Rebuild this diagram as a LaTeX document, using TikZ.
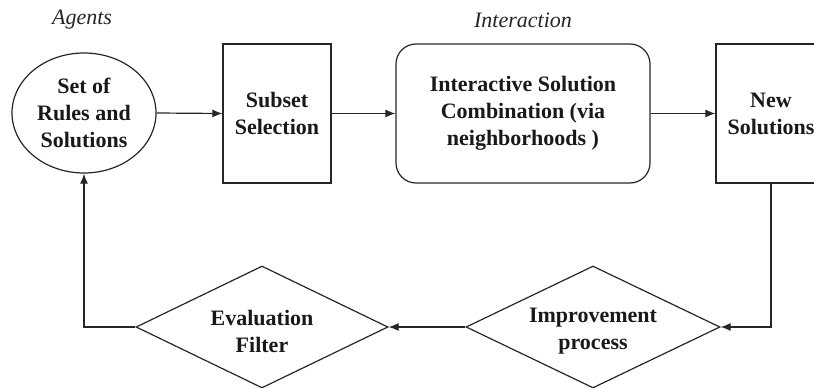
\documentclass[tikz,border=0pt]{standalone}
\usepackage{fontspec}
\setmainfont{Liberation Serif}
\usetikzlibrary{shapes.geometric,arrows.meta}
\tikzset{
  ink/.style={draw=black!85, line width=1.2pt},
  boxtext/.style={font=\fontsize{22}{27}\selectfont\bfseries, align=center, text=black!90},
  stepbox/.style={ink, boxtext, rectangle, inner sep=0pt},
  roundbox/.style={ink, boxtext, rectangle, rounded corners=20pt, inner sep=0pt},
  agentnode/.style={ink, boxtext, ellipse, inner sep=0pt},
  decision/.style={ink, boxtext, diamond, inner sep=0pt},
  heading/.style={font=\fontsize{22}{27}\selectfont\itshape, text=black!85},
  flow/.style={draw=black!85, line width=1.2pt, -{Latex[length=10pt,width=8pt]}}
}
\begin{document}
\begin{tikzpicture}[x=1pt,y=-1pt]
  \useasboundingbox (0,0) rectangle (814,388);
  \begin{scope}
    \clip (0,0) rectangle (814,388);
    % column headings
    \node[heading] (agents) at (82,20) {Agents};
    \node[heading] (inter) at (523,20) {Interaction};
    % top row
    \node[agentnode, minimum width=144pt, minimum height=120pt] (pool) at (84,113)
      {Set of\\Rules and\\Solutions};
    \node[stepbox, minimum width=108pt, minimum height=139pt] (subset) at (277,113.5)
      {Subset\\Selection};
    \node[roundbox, minimum width=254pt, minimum height=139pt] (combine) at (523,113.5)
      {Interactive Solution\\Combination (via\\neighborhoods )};
    \node[stepbox, minimum width=110pt, minimum height=139pt] (newsol) at (771,113.5)
      {New\\Solutions};
    % bottom row
    \node[decision, minimum width=252pt, minimum height=122pt] (evalf) at (262,327) {};
    \node[boxtext] (evaltext) at (262,331) {Evaluation\\Filter};
    \node[decision, minimum width=254pt, minimum height=122pt] (improve) at (593,327) {};
    \node[boxtext] (improvetext) at (593,331) {Improvement\\process};
    % connectors
    \draw[flow] (pool.east) -- (subset.west);
    \draw[flow] (subset.east) -- (combine.west);
    \draw[flow] (combine.east) -- (newsol.west);
    \draw[flow] (newsol.south) |- (improve.east);
    \draw[flow] (improve.west) -- (evalf.east);
    \draw[flow] (evalf.west) -| (pool.south);
  \end{scope}
\end{tikzpicture}
\end{document}
